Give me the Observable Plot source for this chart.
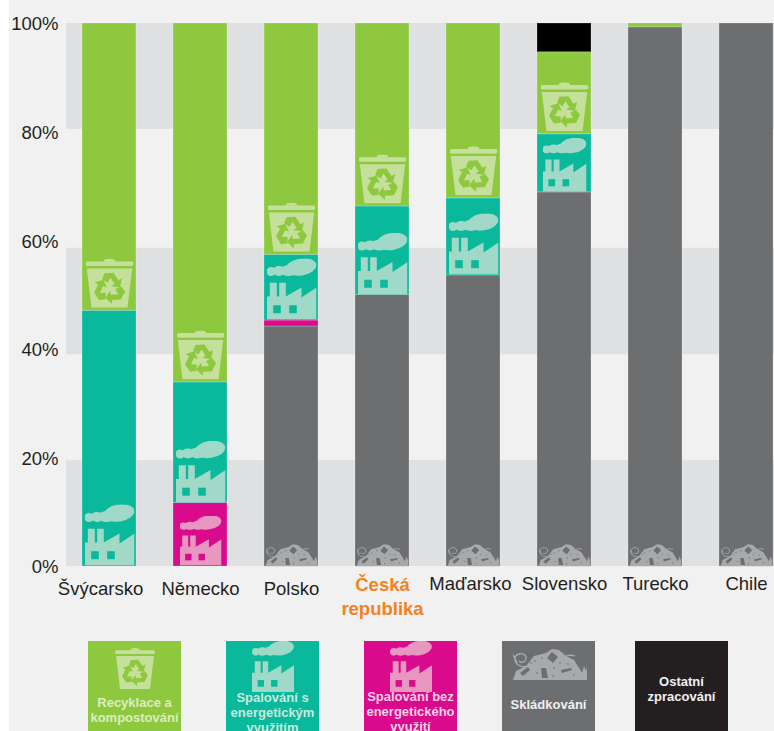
<!DOCTYPE html>
<html lang="cs">
<head>
<meta charset="utf-8">
<script src="https://cdn.jsdelivr.net/npm/d3@7"></script>
<script src="https://cdn.jsdelivr.net/npm/@observablehq/plot@0.6"></script>
<style>
html,body{margin:0;padding:0;background:#fff;}
#page{position:absolute;left:9px;top:0;width:765px;height:731px;background:#f1f1f1;overflow:hidden;font-family:"Liberation Sans",Arial,sans-serif;}
#chart{position:absolute;left:-9px;top:0;}
#chart svg{display:block;background:transparent;}
.lg{position:absolute;top:641px;height:110px;width:93px;text-align:center;font-weight:bold;font-size:13px;line-height:15px;overflow:hidden;}
.lg img{position:absolute;display:block;}
.lg span{position:absolute;left:0;right:0;white-space:pre-line;}
</style>
</head>
<body>
<div id="page"><div id="chart"></div></div>
<script>
const countries = ["Švýcarsko","Německo","Polsko","Česká\nrepublika","Maďarsko","Slovensko","Turecko","Chile"];
const methods = ["Skládkování","Spalování bez energetického využití","Spalování s energetickým využitím","Recyklace a kompostování","Ostatní zpracování"];
const landfill  = [0, 0, 44.2, 50.0, 53.6, 68.9, 99.3, 100];
const burnPlain = [0, 11.7, 1.1, 0, 0, 0, 0, 0];
const burnPower = [47.1, 22.2, 12.1, 16.3, 14.2, 10.7, 0, 0];
const recycle   = [52.9, 66.1, 42.6, 33.7, 32.2, 15.1, 0.7, 0];
const other     = [0, 0, 0, 0, 0, 5.3, 0, 0];
const series = [landfill, burnPlain, burnPower, recycle, other];
const colors = ["#6d6e70","#d90b8c","#0ab89c","#8ec83f","#000000"];
const bandEdges = [[100,80.5],[58.6,39],[19.5,0]];
const yTicks = [0,20,40,60,80,100];

function svgUri(w,h,body){
  return "data:image/svg+xml;charset=utf-8,"+encodeURIComponent(`<svg xmlns="http://www.w3.org/2000/svg" viewBox="0 0 ${w} ${h}" width="${w}" height="${h}" preserveAspectRatio="none">${body}</svg>`);
}
function trash(light,dark){
  const arrow=`<path d="M-5 -15 L4 -15.500 L9 -8 L12.500 -10 L10.500 -1 L2 -2 L5 -4.500 L1 -10.500 L-2 -5.500 L-7.500 -9Z" fill="${dark}"/>`;
  return svgUri(48,49,`<rect x="0" y="2.700" width="48" height="4.600" rx="2.300" fill="${light}"/><path d="M18 3q0-3 6-3t6 3z" fill="${light}"/>
  <path d="M1.300 9.700H46.700L42 49H6Z" fill="${light}"/>
  <g transform="translate(24,29.500)">${arrow}<g transform="rotate(120)">${arrow}</g><g transform="rotate(240)">${arrow}</g></g>`);
}
function factory(light,dark){
  return svgUri(50,61,`<g fill="${light}"><ellipse cx="4.500" cy="13" rx="4.500" ry="4.500"/><ellipse cx="12.500" cy="12.500" rx="6.500" ry="5"/><ellipse cx="22" cy="12" rx="8" ry="5.500"/><ellipse cx="34.500" cy="8.500" rx="15.500" ry="8.500" transform="rotate(-9 34.500 8.500)"/>
  <path d="M0 61V38H3.300V24.300H10.300V38H12.700V24.300H19.300V38L35 29V39L50 29V61Z"/></g>
  <rect x="6.700" y="46.700" width="7.600" height="8" fill="${dark}"/><rect x="22.700" y="46.700" width="7.600" height="8" fill="${dark}"/>`);
}
function heap(light,dark){
  return svgUri(74,32,`<path d="M0 32L3 23 13 18 21 8 33 5 39 1 46 2 53 8 61 12 68 23 69 25 71 18 73 23 74 18V32Z" fill="${light}"/>
  <path d="M13 18C8 20 1 16 2 10 3 5 11 4 13 9 14 13 9 16 6 13M-1 5C1 9 2 11 4 14" fill="none" stroke="${light}" stroke-width="1.300"/>
  <path d="M39 4l6 5-5 6-6-5z" fill="${dark}"/><path d="M53 8c3-1 6-1 9 0" fill="none" stroke="${light}" stroke-width="1.300"/>
  <path d="M7 25l8-6 2 3-7 6z" fill="${dark}"/><path d="M28 20h5l2 10h-6z" fill="${dark}"/><path d="M48 22l10-2 1 2-10 3z" fill="${dark}"/>
  <g fill="${dark}"><circle cx="22" cy="13" r=".8"/><circle cx="29" cy="10" r=".8"/><circle cx="24" cy="25" r=".8"/><circle cx="41" cy="20" r=".8"/><circle cx="47" cy="15" r=".8"/><circle cx="55" cy="16" r=".8"/><circle cx="61" cy="27" r=".8"/><circle cx="40" cy="28" r=".8"/><circle cx="18" cy="15" r=".8"/></g>`);
}
const iconTrash = trash("#c5e09b","#8ec83f");
const iconPower = factory("#a0d9c7","#0ab89c");
const iconPlain = factory("#e897c1","#d90b8c");
const iconHeap = heap("#a7a9ac","#6d6e70");

const segments = [];
countries.forEach((c,i)=>{
  let base=0;
  series.forEach((vals,k)=>{
    const v=vals[i];
    if(v>0){segments.push({country:c,method:methods[k],y1:base,y2:base+v,k});base+=v;}
  });
});
const heaps = segments.filter(d=>d.k===0);
const bins = segments.filter(d=>d.k===3 && d.y2-d.y1>5);
const fullPower = segments.filter(d=>d.k===2 && d.country!=="Slovensko");
const tightPower = segments.filter(d=>d.k===2 && d.country==="Slovensko");
const tightPlain = segments.filter(d=>d.k===1 && d.country==="Německo");

const lowLeft = ["Švýcarsko"];
const lowMid = ["Německo","Polsko"];
const nudged = ["Maďarsko"];
const upper = ["Slovensko","Turecko","Chile"];
const tickFont = {y:()=>0,text:d=>d,fontSize:18.5,fill:"#231f20"};

const plot = Plot.plot({
  width:774,height:641,
  marginLeft:66,marginRight:0,marginTop:23,marginBottom:75,
  style:{background:"transparent",fontFamily:"'Liberation Sans',Arial,sans-serif",overflow:"hidden"},
  x:{type:"band",domain:countries,range:[63.5,791.5],paddingInner:37/91,paddingOuter:37/182,axis:null},
  y:{domain:[0,100],range:[566,23],axis:null},
  color:{domain:methods,range:colors},
  marks:[
    Plot.rect(bandEdges,{y1:d=>d[0],y2:d=>d[1],fill:"#dfe0e2"}),
    Plot.rectY(segments,{x:"country",y1:"y1",y2:"y2",fill:"method",stroke:"#fff",strokeOpacity:0.22,strokeWidth:1}),
    Plot.image(heaps,{x:"country",y:"y1",src:()=>iconHeap,width:52,height:23,dy:-11.5,preserveAspectRatio:"none"}),
    Plot.image(tightPlain,{x:"country",y:"y1",src:()=>iconPlain,width:42,height:50,dy:-26}),
    Plot.image(fullPower,{x:"country",y:"y1",src:()=>iconPower,width:50,height:61,dy:-31.5}),
    Plot.image(tightPower,{x:"country",y:"y1",src:()=>iconPower,width:44,height:54,dy:-27.5}),
    Plot.image(bins,{x:"country",y:"y1",src:()=>iconTrash,width:48,height:49,dy:-27.5}),
    Plot.text(yTicks,{x:()=>countries[0],y:d=>d,text:d=>d+"%",textAnchor:"end",dx:-51,dy:1,fontSize:18.5,fill:"#231f20"}),
    Plot.text(lowLeft,{...tickFont,x:d=>d,dx:-9,dy:22.5}),
    Plot.text(lowMid,{...tickFont,x:d=>d,dy:22.5}),
    Plot.text(nudged,{...tickFont,x:d=>d,dx:-3,dy:18}),
    Plot.text(upper,{...tickFont,x:d=>d,dy:18}),
    Plot.text([countries[3]],{x:d=>d,y:()=>0,text:d=>d,dy:28.5,lineHeight:1.3,fontSize:18.5,fontWeight:"bold",fill:"#f58220"})
  ]
});
document.getElementById("chart").appendChild(plot);

const legend = [
 {left:88,bg:"#8ec83f",fg:"#dcedc0",text:"Recyklace a\nkompostování",textTop:54,src:iconTrash,ix:27,iy:7,iw:40,ih:41},
 {left:226,bg:"#0ab89c",fg:"#c6ebdf",text:"Spalování s\nenergetickým\nvyužitím",textTop:49,src:iconPower,ix:25.5,iy:0,iw:42,ih:51},
 {left:364,bg:"#d90b8c",fg:"#f6cfe4",text:"Spalování bez\nenergetického\nvyužití",textTop:48,src:iconPlain,ix:25.5,iy:0,iw:42,ih:51},
 {left:502,bg:"#6d6e70",fg:"#f1f1f1",text:"Skládkování",textTop:56,src:iconHeap,ix:10.5,iy:7,iw:74,ih:32},
 {left:635,bg:"#231f20",fg:"#f1f1f1",text:"Ostatní\nzpracování",textTop:33,src:null}
];
const page=document.getElementById("page");
legend.forEach(l=>{
  const d=document.createElement("div");d.className="lg";
  d.style.left=(l.left-9)+"px";d.style.background=l.bg;d.style.color=l.fg;
  if(l.src){const im=document.createElement("img");im.src=l.src;im.alt="";
    Object.assign(im.style,{left:l.ix+"px",top:l.iy+"px",width:l.iw+"px",height:l.ih+"px"});d.appendChild(im);}
  const s=document.createElement("span");s.textContent=l.text;s.style.top=l.textTop+"px";d.appendChild(s);
  page.appendChild(d);
});
</script>
</body>
</html>
